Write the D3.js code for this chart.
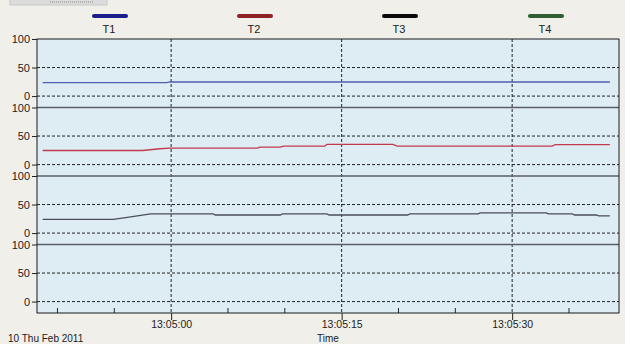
<!DOCTYPE html>
<html><head><meta charset="utf-8">
<script src="https://cdn.jsdelivr.net/npm/d3@7"></script>
<style>html,body{margin:0;padding:0;background:#f1efea;overflow:hidden}svg{display:block}</style>
</head><body><svg id="c" width="625" height="344"></svg>
<script>
// ---- data (seconds relative to 13:05:00) ----
const seriesNames = ["T1", "T2", "T3", "T4"];
const seriesColors = ["#4f5fb0", "#c23a4e", "#4a4e5a", "#2e6a36"];
const legendColors = ["#1c1c8c", "#8e2222", "#0a0a0a", "#2f5e33"];
const t1Times = [-11.3, -0.4, -0.1, 38.6];
const t1Values = [23.6, 23.6, 24.7, 24.7];
const t2Times = [-11.3, -2.5, -1.0, -0.1, 7.6, 7.8, 9.6, 9.9, 13.5, 13.7, 19.5, 19.9, 33.5, 33.8, 38.6];
const t2Values = [24.7, 24.7, 27.7, 29.0, 29.0, 30.5, 30.5, 32.3, 32.3, 35.3, 35.3, 32.3, 32.3, 35.0, 35.0];
const t3Times = [-11.3, -5.1, -4.0, -1.8, 3.7, 3.9, 9.6, 9.8, 13.7, 13.9, 20.8, 21.0, 27.0, 27.2, 33.0, 33.2, 35.3, 35.5, 37.4, 37.6, 38.6];
const t3Values = [24.0, 24.0, 27.0, 33.5, 33.5, 31.7, 31.7, 33.5, 33.5, 31.7, 31.7, 33.5, 33.5, 35.3, 35.3, 33.5, 33.5, 31.7, 31.7, 30.0, 30.0];
const t4Times = [];
const t4Values = [];
const yTicks = [0, 50, 100];
const xMajorTicks = ["13:05:00", "13:05:15", "13:05:30"];
const dateLabel = "10 Thu Feb 2011";
const xTitle = "Time";

const base = new Date(2011, 1, 10, 13, 5, 0);
const T = s => new Date(base.getTime() + s * 1000);
const seriesData = [[t1Times, t1Values], [t2Times, t2Values], [t3Times, t3Values], [t4Times, t4Values]]
  .map(([ts, vs]) => ts.map((t, i) => ({ t: T(t), v: vs[i] })));

const svg = d3.select("#c");
const L = 37, R = 619, TOP = 39, BOT = 313;
const panelH = (BOT - TOP) / 4;
const x = d3.scaleTime().domain([T(-11.8), T(39.4)]).range([L, R]);
const font = "'Liberation Sans', Arial, sans-serif";

// top-left UI remnant
svg.append("rect").attr("x", 10).attr("y", -2).attr("width", 97).attr("height", 7)
  .attr("fill", "#dcdcdc").attr("stroke", "#c8c8c8");
svg.append("line").attr("x1", 50).attr("x2", 94).attr("y1", 2).attr("y2", 2)
  .attr("stroke", "#888").attr("stroke-dasharray", "1,1");

// legend
const legendX = [110, 255, 400, 546];
seriesNames.forEach((n, i) => {
  svg.append("line").attr("x1", legendX[i] - 16).attr("x2", legendX[i] + 16)
    .attr("y1", 16).attr("y2", 16).attr("stroke", legendColors[i])
    .attr("stroke-width", 4).attr("stroke-linecap", "round");
  svg.append("text").attr("x", legendX[i] - 1).attr("y", 33).attr("text-anchor", "middle")
    .attr("font-family", font).attr("font-size", 11).attr("fill", "#222").text(n);
});

// plot background
svg.append("rect").attr("x", L).attr("y", TOP).attr("width", R - L).attr("height", BOT - TOP)
  .attr("fill", "#deedf4");

// vertical grid
xMajorTicks.forEach(s => {
  const [h, m, sec] = s.split(":").map(Number);
  const xx = x(new Date(2011, 1, 10, h, m, sec));
  svg.append("line").attr("x1", xx).attr("x2", xx).attr("y1", TOP).attr("y2", BOT)
    .attr("stroke", "#222").attr("stroke-dasharray", "3,2");
});

// panels
seriesData.forEach((data, i) => {
  const top = TOP + i * panelH;
  const y = d3.scaleLinear().domain([-20, 100]).range([top + panelH, top]);
  [0, 50].forEach(v => {
    svg.append("line").attr("x1", L).attr("x2", R).attr("y1", y(v)).attr("y2", y(v))
      .attr("stroke", "#222").attr("stroke-dasharray", "3,2");
  });
  if (i > 0) {
    svg.append("line").attr("x1", L).attr("x2", R).attr("y1", y(100)).attr("y2", y(100))
      .attr("stroke", "#5a5f66").attr("stroke-width", 1.6);
  }
  const ax = svg.append("g").attr("transform", `translate(${L},0)`)
    .call(d3.axisLeft(y).tickValues(yTicks).tickSize(5).tickPadding(2));
  ax.select(".domain").remove();
  ax.selectAll("line").attr("stroke", "#222");
  ax.selectAll("text").attr("font-family", font).attr("font-size", 11).attr("fill", "#222");
  if (data.length) {
    const line = d3.line().x(d => x(d.t)).y(d => y(d.v));
    svg.append("path").datum(data).attr("d", line).attr("fill", "none")
      .attr("stroke", seriesColors[i]).attr("stroke-width", 1.3);
  }
});

// border
svg.append("rect").attr("x", L).attr("y", TOP).attr("width", R - L).attr("height", BOT - TOP)
  .attr("fill", "none").attr("stroke", "#1a1a1a").attr("stroke-width", 1);

// x axis: minor ticks inward every 5s, major outward every 15s
const minor = d3.timeSecond.every(5).range(x.domain()[0], x.domain()[1]);
svg.append("g").selectAll("line").data(minor.filter(d => d.getSeconds() % 15 !== 0)).join("line")
  .attr("x1", d => x(d)).attr("x2", d => x(d)).attr("y1", BOT - 5).attr("y2", BOT).attr("stroke", "#222");
const xa = svg.append("g").attr("transform", `translate(0,${BOT})`)
  .call(d3.axisBottom(x).tickValues(minor.filter(d => d.getSeconds() % 15 === 0))
    .tickFormat(d3.timeFormat("%H:%M:%S")).tickSize(7).tickPadding(1));
xa.select(".domain").remove();
xa.selectAll("line").attr("stroke", "#222");
xa.selectAll("text").attr("font-family", font).attr("font-size", 10.5).attr("fill", "#222");

svg.append("text").attr("x", (L + R) / 2).attr("y", 341.5).attr("text-anchor", "middle")
  .attr("font-family", font).attr("font-size", 10).attr("fill", "#222").text(xTitle);
svg.append("text").attr("x", 8).attr("y", 341.5)
  .attr("font-family", font).attr("font-size", 10).attr("fill", "#222").text(dateLabel);
</script></body></html>
